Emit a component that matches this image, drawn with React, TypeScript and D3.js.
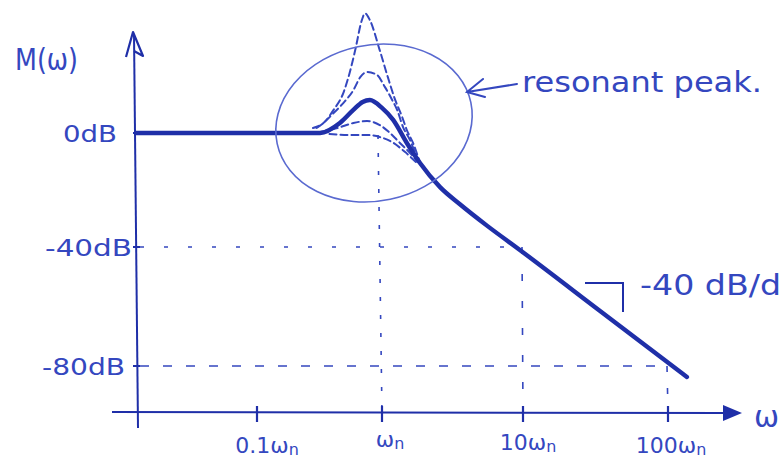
import React from "react";
import * as d3 from "d3";

// frequency ticks (ω / ωn) and their labels
const freqTicks = [0.1, 1, 10, 100];
const freqLabels = ["0.1ω", "ω", "10ω", "100ω"];
// magnitude ticks (dB)
const magTicks = [0, -40, -80];
const magLabels = ["0dB", "-40dB", "-80dB"];

// main (thick) magnitude response: ω/ωn, dB
const mainW = [0.01, 0.2, 0.32, 0.46, 0.59, 0.7, 0.8, 1.0, 1.2, 1.5, 1.86, 2.58, 3.57, 5.55, 9.5, 34, 135];
const mainDb = [0, 0, 0, 3.5, 8.1, 10.9, 11.6, 8.8, 4.6, -3.5, -10.5, -19, -25, -32.5, -41, -61.5, -83.7];

// dashed responses for other damping ratios
const tallW = [0.28, 0.34, 0.41, 0.49, 0.55, 0.61, 0.69, 0.73, 0.8, 0.96, 1.1, 1.24, 1.39, 1.5, 1.66, 1.86];
const tallDb = [1.75, 3.5, 8.1, 14, 21, 29, 39.6, 42, 39.6, 29, 19.6, 11.6, 5.6, 1.05, -3.5, -10.5];
const medW = [0.3, 0.34, 0.41, 0.49, 0.59, 0.67, 0.76, 0.91, 1.05, 1.18, 1.28, 1.41, 1.58, 1.74];
const medDb = [1.75, 3.5, 7, 10.5, 15, 19.6, 21.4, 20.4, 16.1, 11.6, 8.1, 2.1, -2.5, -7.7];
const smallW = [0.32, 0.44, 0.59, 0.76, 0.96, 1.14, 1.34, 1.58, 1.8];
const smallDb = [0.35, 1.75, 3.5, 4.2, 2.8, 0, -3.5, -7, -10.2];
const lowW = [0.38, 0.55, 0.76, 0.96, 1.18, 1.46, 1.74];
const lowDb = [-0.35, -0.7, -0.7, -1.4, -3.2, -6.7, -10.2];

const INK = "#1f2fa8";
const INK_LIGHT = "#3447bf";
const INK_PALE = "#5a6ad0";
const FONT = "'DejaVu Sans', sans-serif";

export default function App() {
  const x = d3
    .scaleLog()
    .domain([0.01, 0.1, 1, 10, 100])
    .range([136, 257, 382, 523, 668]);
  const y = d3.scaleLinear().domain([0, -40, -80]).range([133, 247, 366]);

  const line = d3
    .line<[number, number]>()
    .x((d) => x(d[0]))
    .y((d) => y(d[1]))
    .curve(d3.curveMonotoneX);

  const pts = (w: number[], db: number[]) => w.map((v, i) => [v, db[i]] as [number, number]);

  const axisY = 136;
  const axisX = 413;

  return (
    <svg
      width={783}
      height={464}
      style={{ position: "absolute", left: 0, top: 0, background: "#fff" }}
      fontFamily={FONT}
    >
      {/* guide lines */}
      <line x1={axisY + 4} x2={x(10)} y1={y(-40)} y2={y(-40)} stroke={INK_LIGHT} strokeWidth={1.6} strokeDasharray="4 20" />
      <line x1={axisY + 4} x2={x(100)} y1={y(-80)} y2={y(-80)} stroke={INK_LIGHT} strokeWidth={1.6} strokeDasharray="9 14" />
      <line x1={x(1) - 4} x2={x(1)} y1={y(0) + 2} y2={axisX} stroke={INK_LIGHT} strokeWidth={1.6} strokeDasharray="4 14" />
      <line x1={x(10) - 1} x2={x(10)} y1={y(-40)} y2={axisX} stroke={INK_LIGHT} strokeWidth={1.6} strokeDasharray="7 20" />
      <line x1={x(100) - 1} x2={x(100)} y1={y(-80)} y2={axisX} stroke={INK_LIGHT} strokeWidth={1.6} strokeDasharray="6 16" />

      {/* axes */}
      <line x1={134} y1={34} x2={138} y2={428} stroke={INK} strokeWidth={2} />
      <path d="M126,57 L133,32 L143,56 L134,51" fill="none" stroke={INK} strokeWidth={2.2} strokeLinejoin="round" />
      <line x1={112} y1={axisX - 1} x2={728} y2={axisX} stroke={INK} strokeWidth={2} />
      <path d="M723,405 L742,413 L723,421 Z" fill={INK} />
      {freqTicks.map((t) => (
        <line key={t} x1={x(t)} x2={x(t)} y1={axisX - 7} y2={axisX + 9} stroke={INK} strokeWidth={2.2} />
      ))}
      {magTicks.map((t) => (
        <line key={t} x1={axisY - 3} x2={axisY + 4} y1={y(t)} y2={y(t)} stroke={INK} strokeWidth={2} />
      ))}

      {/* dashed responses */}
      {[pts(tallW, tallDb), pts(medW, medDb), pts(smallW, smallDb), pts(lowW, lowDb)].map((p, i) => (
        <path key={i} d={line(p) || ""} fill="none" stroke={INK_LIGHT} strokeWidth={2} strokeDasharray="7 4" strokeLinecap="round" />
      ))}

      {/* main response */}
      <path d={line(pts(mainW, mainDb)) || ""} fill="none" stroke={INK} strokeWidth={4.4} strokeLinecap="round" strokeLinejoin="round" />

      {/* resonant peak ellipse + arrow */}
      <ellipse cx={374} cy={123} rx={99} ry={78} transform="rotate(-12 374 123)" fill="none" stroke={INK_PALE} strokeWidth={1.6} />
      <path d="M467,92 L517,84 M483,79 L467,92 L485,97" fill="none" stroke={INK_LIGHT} strokeWidth={2} strokeLinecap="round" />
      <text x={522} y={92} fontSize={28} fill={INK_LIGHT} textLength={240} lengthAdjust="spacingAndGlyphs">
        resonant peak.
      </text>

      {/* slope marker */}
      <path d="M585,283 L623,283 L623,312" fill="none" stroke={INK} strokeWidth={2} />
      <text x={640} y={295} fontSize={28} fill={INK_LIGHT} textLength={141} lengthAdjust="spacingAndGlyphs">
        -40 dB/d
      </text>

      {/* axis titles */}
      <text x={15} y={70} fontSize={31} fill={INK_LIGHT} textLength={63} lengthAdjust="spacingAndGlyphs">
        M(ω)
      </text>
      <text x={754} y={427} fontSize={30} fill={INK_LIGHT}>
        ω
      </text>

      {/* magnitude labels */}
      {magTicks.map((t, i) => {
        const widths = [54, 87, 83];
        const right = [117, 132, 125];
        return (
          <text
            key={t}
            x={right[i] - widths[i]}
            y={y(t) + 9}
            fontSize={23}
            fill={INK_LIGHT}
            textLength={widths[i]}
            lengthAdjust="spacingAndGlyphs"
          >
            {magLabels[i]}
          </text>
        );
      })}

      {/* frequency labels */}
      {freqTicks.map((t, i) => {
        const dx = [10, 8, 5, 3];
        const dy = [453, 447, 450, 453];
        return (
          <text key={t} x={x(t) + dx[i]} y={dy[i]} fontSize={22} fill={INK_LIGHT} textAnchor="middle">
            {freqLabels[i]}
            <tspan fontSize={16} dy={2}>
              n
            </tspan>
          </text>
        );
      })}
    </svg>
  );
}
